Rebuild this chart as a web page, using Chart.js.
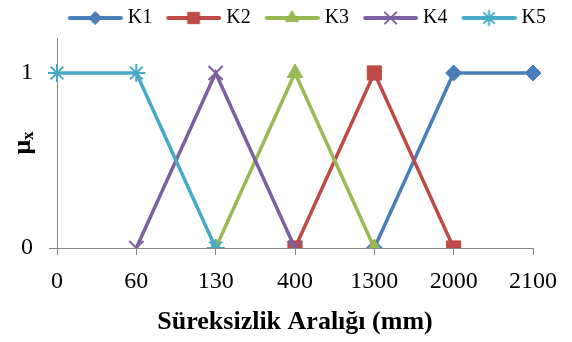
<!DOCTYPE html>
<html>
<head>
<meta charset="utf-8">
<script src="https://cdn.jsdelivr.net/npm/chart.js@4.4.0/dist/chart.umd.min.js"></script>
<style>
  html, body { margin: 0; padding: 0; background: #fff; }
  #wrap { width: 572px; height: 342px; }
</style>
</head>
<body>
<div id="wrap"><canvas id="chart"></canvas></div>
<script>
// category labels on the x axis (mm)
const categories = ["0", "60", "130", "400", "1300", "2000", "2100"];
const seriesNames = ["K1", "K2", "K3", "K4", "K5"];
// membership values, null = no point
const k1 = [null, null, null, null, 0, 1, 1];
const k2 = [null, null, null, 0, 1, 0, null];
const k3 = [null, null, 0, 1, 0, null, null];
const k4 = [null, 0, 1, 0, null, null, null];
const k5 = [1, 1, 0, null, null, null, null];
const yTicks = [0, 1];

const colors = ["#4A7EBB", "#BE4B48", "#98B954", "#7D60A0", "#46AAC5"];
const pointStyles = ["rectRot", "rect", "triangle", "crossRot", "star"];
const radii = [8, 10, 9, 10, 9];
const axisGray = "#868686";
const serif = "'Liberation Serif', 'Times New Roman', serif";

//legend icon: a line with the marker in the middle
function legendIcon(i) {
  const c = document.createElement("canvas");
  c.width = 70;
  c.height = 20;
  const g = c.getContext("2d");
  g.strokeStyle = colors[i];
  g.fillStyle = colors[i];
  g.lineWidth = 4;
  g.lineCap = "round";
  g.beginPath();
  g.moveTo(17, 10);
  g.lineTo(68, 10);
  g.stroke();
  g.lineWidth = pointStyles[i] == "crossRot" || pointStyles[i] == "star" ? 2 : 1;
  Chart.helpers.drawPoint(g, { pointStyle: pointStyles[i], radius: radii[i] * 0.8, borderWidth: g.lineWidth, rotation: 0 }, 42.5, 10);
  return c;
}
const icons = seriesNames.map((_, i) => legendIcon(i));

const values = [k1, k2, k3, k4, k5];
const datasets = values.map((v, i) => ({
  label: seriesNames[i],
  data: v,
  borderColor: colors[i],
  backgroundColor: colors[i],
  borderWidth: 3.5,
  pointStyle: pointStyles[i],
  pointRadius: radii[i],
  pointHoverRadius: radii[i],
  pointBackgroundColor: colors[i],
  pointBorderColor: colors[i],
  pointBorderWidth: pointStyles[i] == "crossRot" || pointStyles[i] == "star" ? 2 : 1,
  tension: 0,
  spanGaps: false,
  //later series on top, like the original
  order: 4 - i,
}));

//y axis title: mu with subscript x
const yTitle = {
  id: "yTitle",
  afterDraw(chart) {
    const ctx = chart.ctx;
    const a = chart.chartArea;
    ctx.save();
    ctx.translate(23, (a.top + a.bottom) / 2);
    ctx.rotate(-Math.PI / 2);
    ctx.fillStyle = "#000";
    ctx.textBaseline = "middle";
    ctx.font = "bold 26px " + serif;
    const w1 = ctx.measureText("μ").width;
    ctx.font = "bold 17px " + serif;
    const w2 = ctx.measureText("x").width;
    const x0 = -(w1 + w2) / 2;
    ctx.font = "bold 26px " + serif;
    ctx.fillText("μ", x0, 0);
    ctx.font = "bold 17px " + serif;
    ctx.fillText("x", x0 + w1, 6);
    ctx.restore();
  },
};

const myChart = new Chart(document.getElementById("chart"), {
  type: "line",
  data: { labels: categories, datasets: datasets },
  plugins: [yTitle],
  options: {
    responsive: true,
    maintainAspectRatio: false,
    animation: false,
    layout: { padding: { top: 4, right: 22, left: 0, bottom: 0 } },
    plugins: {
      tooltip: { enabled: false },
      legend: {
        position: "top",
        align: "end",
        labels: {
          usePointStyle: true,
          pointStyleWidth: 60,
          padding: 4,
          color: "#000",
          font: { family: serif, size: 20 },
          generateLabels: (chart) =>
            chart.data.datasets.map((ds, i) => ({
              text: ds.label,
              pointStyle: icons[i],
              fillStyle: colors[i],
              strokeStyle: colors[i],
              lineWidth: 0,
              hidden: false,
              datasetIndex: i,
              fontColor: "#000",
            })),
        },
      },
    },
    scales: {
      x: {
        offset: false,
        afterFit: (s) => { s.height = 94; s.paddingRight = 39; },
        border: { color: axisGray, width: 1 },
        grid: { display: true, drawOnChartArea: false, drawTicks: true, tickLength: 7, color: axisGray },
        ticks: { color: "#000", padding: 12, maxRotation: 0, autoSkip: false, font: { family: serif, size: 24 } },
        title: {
          display: true,
          text: "Süreksizlik Aralığı (mm)",
          color: "#000",
          font: { family: serif, size: 26, weight: "bold" },
          padding: { top: 4, bottom: 4 },
        },
      },
      y: {
        min: 0,
        max: 1.2,
        afterFit: (s) => { s.width = 57; },
        afterBuildTicks: (s) => { s.ticks = yTicks.map((v) => ({ value: v })); },
        border: { color: axisGray, width: 1 },
        grid: { display: true, drawOnChartArea: false, drawTicks: true, tickLength: 8, color: axisGray },
        ticks: { color: "#000", padding: 16, font: { family: serif, size: 24 } },
      },
    },
  },
});
</script>
</body>
</html>
